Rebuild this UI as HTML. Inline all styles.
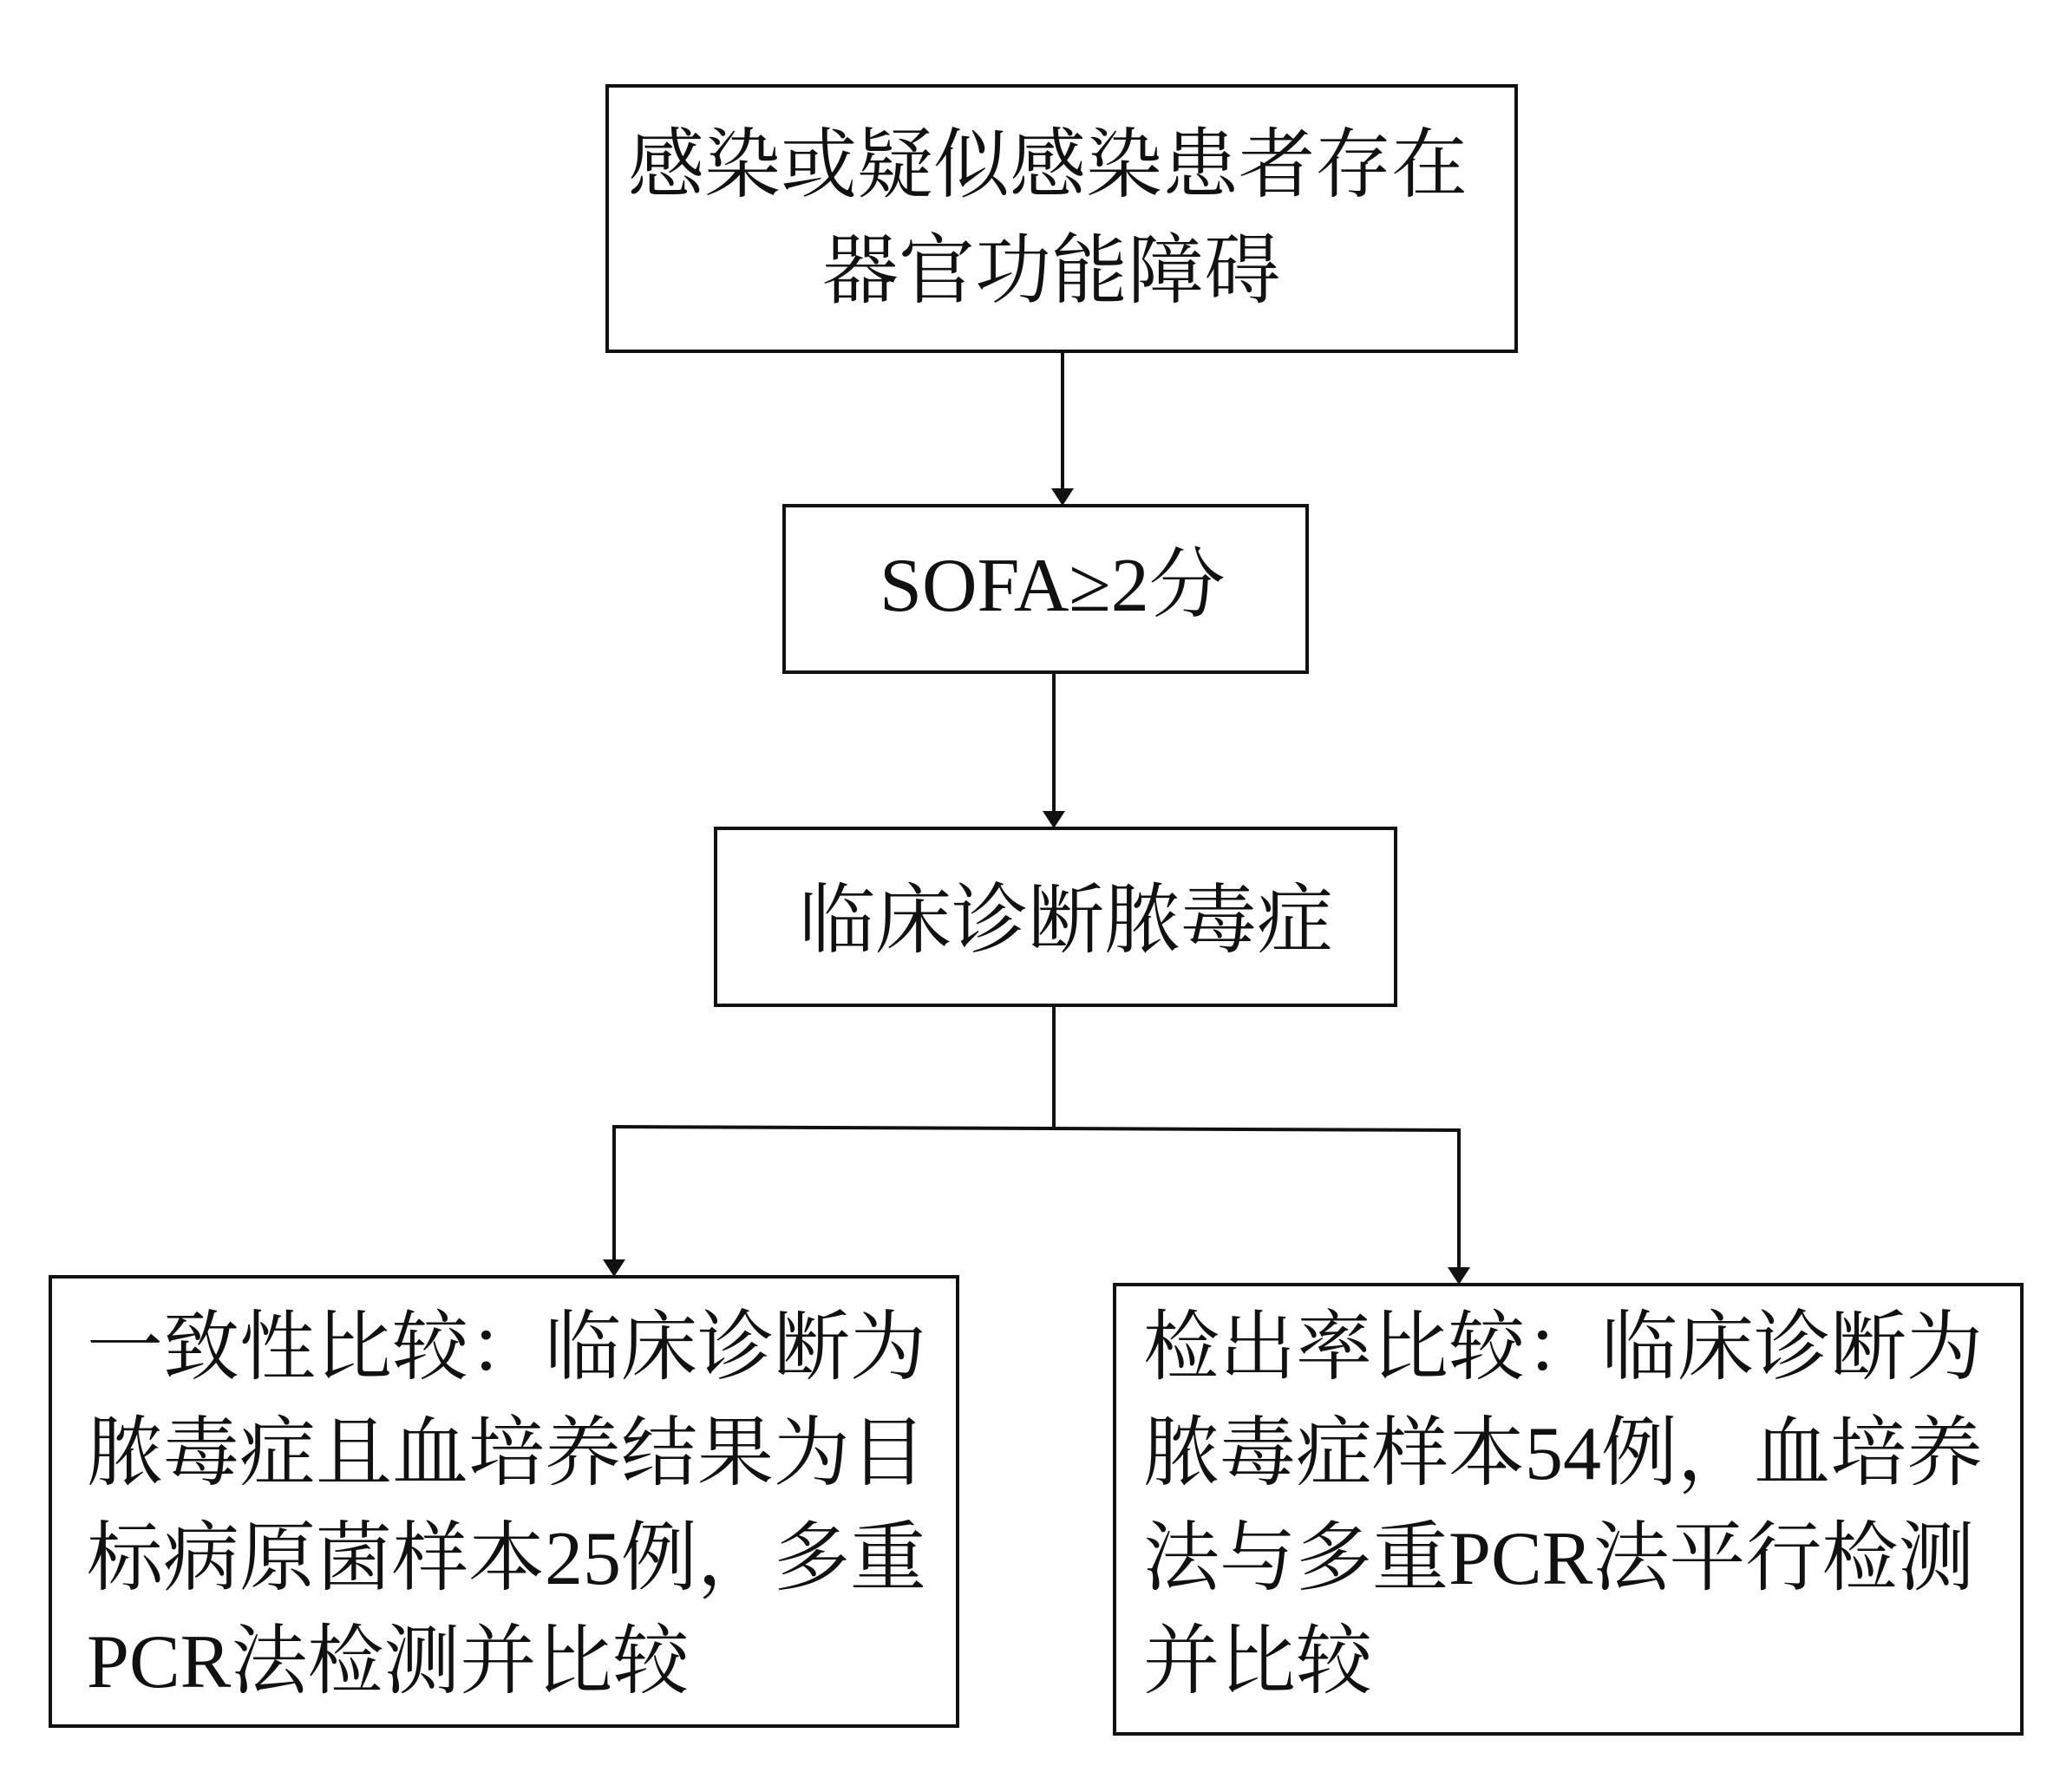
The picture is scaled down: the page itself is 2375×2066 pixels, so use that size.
<!DOCTYPE html>
<html><head><meta charset="utf-8"><style>
html,body{margin:0;padding:0;background:#fff;}
svg{display:block}
text{font-family:"Liberation Serif","Noto Serif CJK SC",serif;font-size:88px;fill:#111;}
</style></head><body>
<svg width="2375" height="2066" viewBox="0 0 2375 2066" xmlns="http://www.w3.org/2000/svg">
<g fill="none" stroke="#111" stroke-width="4">
<rect x="700" y="99" width="1048" height="306"/>
<rect x="904" y="583" width="603" height="192"/>
<rect x="825" y="955" width="784" height="204"/>
<rect x="58" y="1472" width="1046" height="518"/>
<rect x="1285" y="1481" width="1046" height="518"/>
<line x1="1225" y1="405" x2="1225" y2="578"/>
<line x1="1215" y1="775" x2="1215" y2="943"/>
<line x1="1215" y1="1159" x2="1215" y2="1299"/>
<line x1="706" y1="1299" x2="1684" y2="1303"/>
<line x1="708" y1="1299" x2="708" y2="1464"/>
<line x1="1682" y1="1303" x2="1682" y2="1473"/>
</g>
<g fill="#111">
<path d="M1212 563 L1238 563 L1225 583 Z"/>
<path d="M1202 935 L1228 935 L1215 955 Z"/>
<path d="M695 1452 L721 1452 L708 1472 Z"/>
<path d="M1669 1461 L1695 1461 L1682 1481 Z"/>
</g>
<text x="724" y="220">感染或疑似感染患者存在</text>
<text x="948" y="342">器官功能障碍</text>
<text x="1014" y="704">SOFA≥2分</text>
<text x="921" y="1091">临床诊断脓毒症</text>
<text x="100" y="1583">一致性比较：临床诊断为</text>
<text x="100" y="1705">脓毒症且血培养结果为目</text>
<text x="100" y="1826">标病原菌样本25例，多重</text>
<text x="100" y="1945">PCR法检测并比较</text>
<text x="1318" y="1583">检出率比较：临床诊断为</text>
<text x="1318" y="1705">脓毒症样本54例，血培养</text>
<text x="1318" y="1826">法与多重PCR法平行检测</text>
<text x="1318" y="1945">并比较</text>
</svg>
</body></html>
